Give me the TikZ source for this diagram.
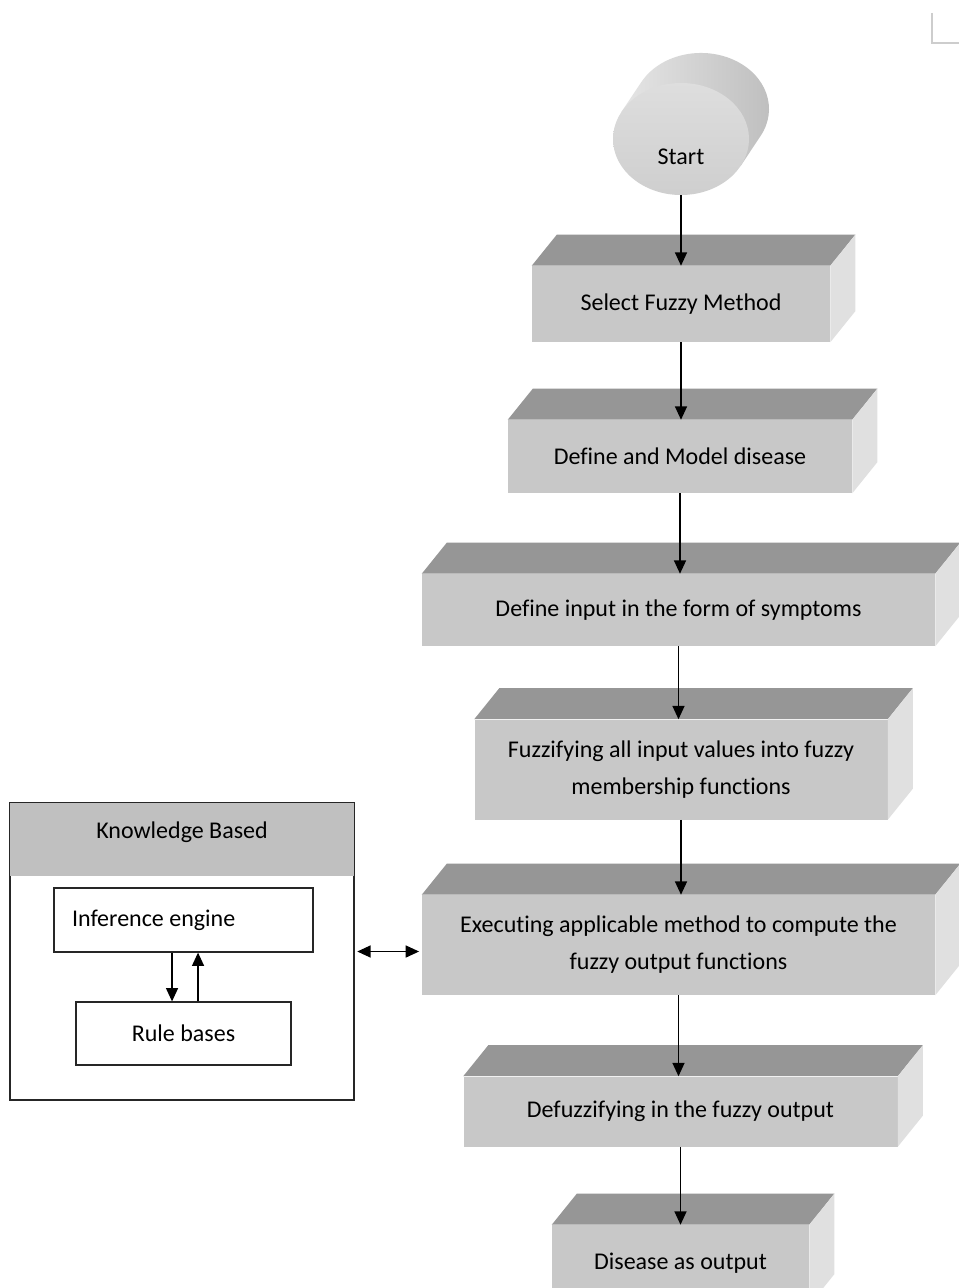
\documentclass[tikz,border=0pt]{standalone}
\usepackage{fontspec}
\setmainfont{Carlito}[Ligatures={NoCommon}]
\usetikzlibrary{arrows.meta,calc,shapes.geometric}
\definecolor{frontc}{RGB}{200,200,200}
\definecolor{topc}{RGB}{150,150,150}
\definecolor{sidec}{RGB}{224,224,224}
\definecolor{headc}{RGB}{192,192,192}
\definecolor{markc}{RGB}{205,205,205}
\newcommand\cuboidfaces[1]{%
  \fill[topc] (#1.north west) -- ++(25,-31) -- ($(#1.north east)+(25,-31)$) -- (#1.north east) -- cycle;
  \fill[sidec] (#1.north east) -- ++(25,-31) -- ($(#1.south east)+(25,-31)$) -- (#1.south east) -- cycle;
}
\tikzset{
  txt/.style={font=\fontsize{18}{27.75}\selectfont, text=black},
  front/.style={txt, fill=frontc, draw=none, align=center, inner sep=0pt},
  arr/.style={-{Triangle[length=10pt,width=9pt]}, line width=1pt},
  darr/.style={{Triangle[length=10pt,width=9pt]}-{Triangle[length=10pt,width=9pt]}, line width=1pt},
  wbox/.style={txt, draw=black!85, line width=0.9pt, fill=white, inner sep=0pt},
}
\begin{document}
\begin{tikzpicture}[x=0.75pt,y=-0.75pt]
\clip (0,0) rectangle (959,1288);
\fill[white] (0,0) rectangle (959,1288);
% crop mark
\draw[markc, line width=1pt] (932,13) -- (932,43) -- (959,43);
% start cylinder
\shade[left color=black!10, right color=black!26] (621.4,112) -- (641.4,82) arc[start angle=151.2, end angle=-28.8, x radius=51pt, y radius=42pt] -- (740.6,166) -- cycle;
\node[ellipse, minimum width=102pt, minimum height=84pt, inner sep=0pt, top color=black!13, bottom color=black!19,
  label={[txt, yshift=-13.5pt]center:Start}] (start) at (681,139) {};
% process boxes (front faces)
\node[front, minimum width=223.5pt, minimum height=57pt] (b1) at (681,304) {Select Fuzzy Method};
\node[front, minimum width=258pt, minimum height=54.75pt] (b2) at (680,456.5) {Define and Model disease};
\node[front, minimum width=384.75pt, minimum height=54pt] (b3) at (678.5,610) {Define input in the form of symptoms};
\node[front, minimum width=309.75pt, minimum height=75pt] (b4) at (681,769.5) {Fuzzifying all input values into fuzzy\\membership functions};
\node[front, minimum width=384.75pt, minimum height=75pt] (b5) at (678.5,945) {Executing applicable method to compute the\\fuzzy output functions};
\node[front, minimum width=325.5pt, minimum height=52.5pt] (b6) at (680.5,1111.5) {Defuzzifying in the fuzzy output};
\node[front, minimum width=192.75pt, minimum height=60pt] (b7) at (680.5,1265) {\raisebox{6pt}{Disease as output}};
\cuboidfaces{b1}
\cuboidfaces{b2}
\cuboidfaces{b3}
\cuboidfaces{b4}
\cuboidfaces{b5}
\cuboidfaces{b6}
\cuboidfaces{b7}
% flow arrows
\draw[arr] (start.south) -- (start.south |- b1.north);
\draw[arr] (b1.south) -- (b1.south |- b2.north);
\draw[arr] (b2.south) -- (b2.south |- b3.north);
\draw[arr] (b3.south) -- (b3.south |- b4.north);
\draw[arr] (b4.south) -- (b4.south |- b5.north);
\draw[arr] (b5.south) -- (b5.south |- b6.north);
\draw[arr] (b6.south) -- (b6.south |- b7.north);
% knowledge based
\node[draw=black!85, line width=0.9pt, minimum width=258pt, minimum height=222.75pt, inner sep=0pt] (kb) at (182,951.5) {};
\fill[headc] ([shift={(0.5,0.5)}]kb.north west) rectangle ($(kb.north east)+(-0.5,74)$);
\draw[black!85, line width=0.9pt] (kb.north west) rectangle (kb.south east);
\node[txt] (kbt) at (182,832) {Knowledge Based};
\node[wbox, minimum width=194.25pt, minimum height=48pt, inner xsep=13.5pt] (ie) at (183.5,920) {\makebox[167.25pt][l]{Inference engine}};
\node[wbox, minimum width=161.25pt, minimum height=47.25pt] (rb) at (183.5,1033.5) {Rule bases};
\draw[arr] ([xshift=-8.6pt]ie.south) -- ([xshift=-8.6pt]ie.south |- rb.north);
\draw[arr] ([xshift=10.9pt]rb.north) -- ([xshift=10.9pt]rb.north |- ie.south);
\draw[darr] ([xshift=2pt]kb.east) -- ([xshift=-2pt]kb.east -| b5.west);
\end{tikzpicture}
\end{document}
